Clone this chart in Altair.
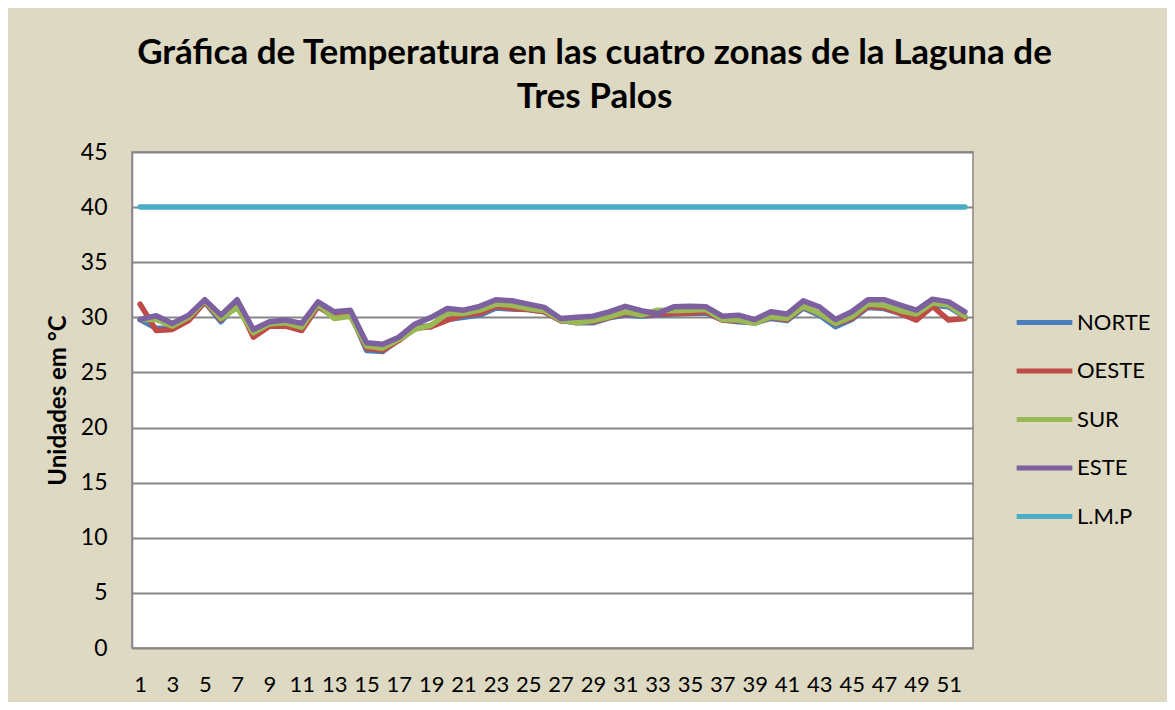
import altair as alt
import pandas as pd

weeks = list(range(1, 53))
norte = [29.8, 29.0, 29.0, 29.8, 31.4, 29.6, 31.3, 28.4, 29.3, 29.3, 28.9, 31.0, 30.1, 30.4, 27.0, 26.9, 28.0, 29.2, 29.2, 29.8,
         30.0, 30.2, 30.85, 30.75, 30.7, 30.5, 29.7, 29.5, 29.5, 29.95, 30.2, 30.1, 30.2, 30.3, 30.35, 30.4, 29.75, 29.6, 29.5, 29.9,
         29.7, 30.85, 30.2, 29.15, 29.8, 30.9, 30.8, 30.35, 29.8, 31.1, 30.95, 30.05]
oeste = [31.2, 28.8, 28.9, 29.7, 31.4, 29.8, 31.3, 28.2, 29.2, 29.2, 28.8, 31.0, 30.0, 30.3, 27.2, 27.0, 27.9, 29.0, 29.15, 29.75,
         30.2, 30.35, 31.0, 30.8, 30.7, 30.5, 29.7, 29.6, 29.6, 30.0, 30.35, 30.2, 30.3, 30.35, 30.4, 30.5, 29.75, 29.7, 29.5, 30.0,
         29.8, 30.95, 30.35, 29.4, 29.9, 31.0, 30.9, 30.35, 29.75, 31.0, 29.75, 29.9]
sur = [29.8, 29.8, 29.2, 30.0, 31.5, 29.9, 30.9, 28.6, 29.4, 29.5, 29.1, 31.2, 29.9, 30.1, 27.4, 27.2, 28.0, 28.9, 29.3, 30.35,
       30.35, 30.65, 31.2, 31.1, 30.8, 30.6, 29.75, 29.5, 29.7, 30.05, 30.5, 30.2, 30.65, 30.6, 30.65, 30.7, 29.8, 29.75, 29.45, 30.05,
       29.9, 31.0, 30.35, 29.45, 30.05, 31.2, 31.1, 30.6, 30.3, 31.3, 31.1, 30.1]
este = [29.8, 30.15, 29.45, 30.2, 31.6, 30.2, 31.6, 28.9, 29.6, 29.75, 29.45, 31.4, 30.5, 30.65, 27.7, 27.55, 28.2, 29.4, 30.0, 30.8,
        30.65, 31.0, 31.6, 31.5, 31.2, 30.9, 29.9, 30.0, 30.1, 30.5, 31.0, 30.6, 30.35, 30.95, 31.0, 30.95, 30.1, 30.2, 29.8, 30.5,
        30.3, 31.5, 30.95, 29.8, 30.5, 31.6, 31.6, 31.1, 30.65, 31.65, 31.4, 30.5]
lmp = [40.0] * 52

series_names = ["NORTE", "OESTE", "SUR", "ESTE", "L.M.P"]
series_values = [norte, oeste, sur, este, lmp]
colors = ["#4A7EBB", "#BE4B48", "#98B954", "#7D60A0", "#4BACC6"]

rows = []
for name, vals in zip(series_names, series_values):
    for w, v in zip(weeks, vals):
        rows.append({"semana": w, "valor": v, "zona": name, "orden": series_names.index(name)})
df = pd.DataFrame(rows)

FONT = "Lato"

chart = alt.Chart(df).mark_line(strokeWidth=5.5, strokeJoin="round", strokeCap="round").encode(
    x=alt.X("semana:O", sort="ascending",
            scale=alt.Scale(type="point", padding=0.5),
            axis=alt.Axis(title=None, labelAngle=0, labelFontSize=22, labelColor="#000000",
                          labelFont=FONT, ticks=False, domain=False, grid=False,
                          labelPadding=26,
                          labelExpr="datum.value % 2 == 1 ? datum.label : ''")),
    y=alt.Y("valor:Q", scale=alt.Scale(domain=[0, 45], nice=False),
            axis=alt.Axis(title="Unidades em °C", values=list(range(0, 50, 5)),
                          titleFont=FONT, titleFontSize=24, titleFontWeight="bold", titleColor="#000000",
                          titlePadding=10, labelFont=FONT, labelFontSize=23, labelColor="#000000",
                          labelPadding=25, ticks=False, domain=True, domainColor="#868686", domainWidth=1.5,
                          grid=True, gridColor="#868686", gridWidth=2)),
    color=alt.Color("zona:N", sort=series_names,
                    scale=alt.Scale(domain=series_names, range=colors),
                    legend=alt.Legend(title=None, orient="none", legendX=882, legendY=140,
                                      symbolType="stroke", symbolSize=3100, symbolStrokeWidth=5,
                                      labelFont=FONT, labelFontSize=22, labelColor="#000000",
                                      rowPadding=6.5, labelOffset=2)),
    order=alt.Order("orden:Q"),
).properties(
    width=841,
    height=496,
    title=alt.TitleParams(
        text=["Gráfica de Temperatura en las cuatro zonas de la Laguna de", "Tres Palos"],
        font=FONT, fontSize=35, fontWeight="bold", color="#000000",
        anchor="middle", dx=42, offset=26, lineHeight=44),
    padding={"left": 124, "top": 144, "right": 194, "bottom": 54},
    autosize=alt.AutoSizeParams(type="none"),
    background="#DDD9C3",
).configure_view(
    fill="#FFFFFF", stroke="#868686", strokeWidth=1.5
)

chart.save("out.html", embed_options={"renderer": "svg", "actions": False})
